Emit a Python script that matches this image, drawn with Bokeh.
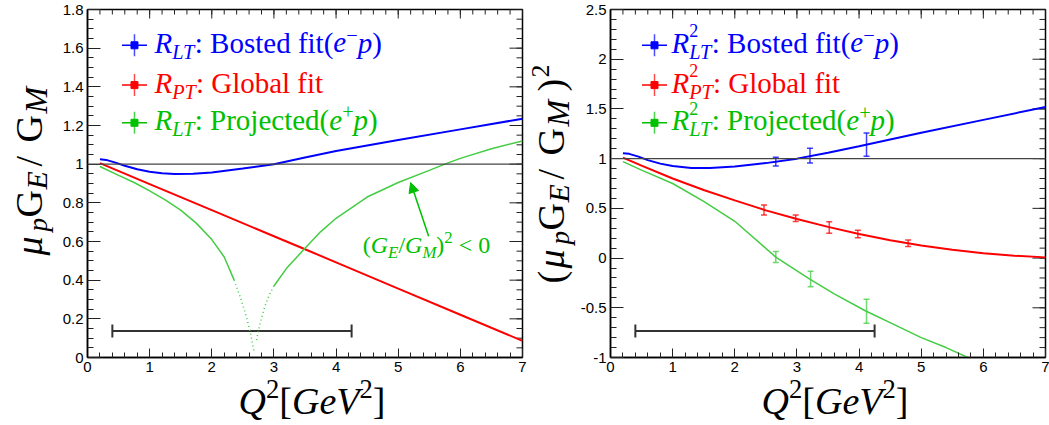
import numpy as np
from bokeh.plotting import figure
from bokeh.models import (Range1d, FixedTicker, Label, Span, Whisker,
                          TeeHead, Arrow, NormalHead, ColumnDataSource)
from bokeh.layouts import row, column
from bokeh.embed import file_html
from bokeh.resources import INLINE

# ---------------- data ----------------
# left panel: mu_p G_E/G_M
blue_l_x = [0.2, 0.3, 0.45, 0.6, 0.8, 1.0, 1.2, 1.4, 1.7, 2.0, 2.5, 3.0, 3.5, 4.0, 5.0, 6.0, 7.0]
blue_l_y = [1.025, 1.022, 1.008, 0.992, 0.974, 0.961, 0.953, 0.949, 0.950, 0.957, 0.977, 1.000, 1.035, 1.068, 1.125, 1.180, 1.235]
red_l_x = [0.2, 1.0, 2.0, 3.0, 3.5, 4.0, 5.0, 6.0, 7.0]
red_l_y = [1.005, 0.897, 0.762, 0.627, 0.560, 0.492, 0.356, 0.221, 0.086]
green_l_a_x = [0.2, 0.5, 0.75, 1.0, 1.25, 1.5, 1.75, 2.0, 2.2, 2.36, 2.45, 2.55, 2.62, 2.68]
green_l_a_y = [0.988, 0.942, 0.905, 0.862, 0.815, 0.762, 0.695, 0.610, 0.520, 0.400, 0.320, 0.220, 0.130, 0.030]
green_l_b_x = [2.72, 2.78, 2.85, 2.92, 3.0, 3.2, 3.5, 3.75, 4.0, 4.5, 5.0, 5.5, 5.75, 6.0, 6.5, 7.0]
green_l_b_y = [0.090, 0.180, 0.260, 0.320, 0.370, 0.460, 0.565, 0.650, 0.720, 0.830, 0.905, 0.968, 1.000, 1.030, 1.080, 1.120]

# right panel: (mu_p G_E/G_M)^2
blue_r_x = [0.2, 0.3, 0.45, 0.6, 0.8, 1.0, 1.3, 1.6, 2.0, 2.5, 3.0, 3.5, 4.0, 5.0, 6.0, 7.0]
blue_r_y = [1.054, 1.048, 1.020, 0.985, 0.950, 0.925, 0.905, 0.905, 0.920, 0.955, 1.000, 1.060, 1.125, 1.260, 1.390, 1.520]
red_r_x = [0.2, 0.5, 1.0, 1.5, 2.0, 2.5, 3.0, 3.5, 4.0, 4.5, 5.0, 5.5, 6.0, 6.5, 7.0]
red_r_y = [1.010, 0.930, 0.800, 0.685, 0.580, 0.480, 0.393, 0.314, 0.242, 0.180, 0.127, 0.083, 0.049, 0.023, 0.007]
green_r_x = [0.2, 0.5, 1.0, 1.5, 2.0, 2.66, 3.2, 3.6, 4.1, 4.6, 5.0, 5.4, 5.75, 6.0]
green_r_y = [0.970, 0.885, 0.750, 0.570, 0.370, 0.010, -0.210, -0.360, -0.530, -0.680, -0.800, -0.900, -1.000, -1.070]

blue_pts_x = [2.66, 3.21, 4.12]
blue_pts_y = [0.97, 1.03, 1.14]
blue_pts_err = [0.045, 0.075, 0.117]
red_pts_x = [2.47, 2.98, 3.52, 3.98, 4.79]
red_pts_y = [0.483, 0.400, 0.307, 0.243, 0.150]
red_pts_err = [0.050, 0.033, 0.058, 0.038, 0.033]
green_pts_x = [2.66, 3.22, 4.12]
green_pts_y = [0.010, -0.210, -0.535]
green_pts_err = [0.055, 0.078, 0.120]

# horizontal range bar
range_lo = [0.4]
range_hi = [4.25]
range_y_left = [0.137]
range_y_right = [-0.733]
ref_level = 1.0

# annotation arrow (left panel)
arrow_start = (5.49, 0.627)
arrow_end = (5.2, 0.905)
note_pos = (4.43, 0.536)

# ticks
X_MAJOR = [0, 1, 2, 3, 4, 5, 6, 7]
X_MINOR = [round(i * 0.2, 2) for i in range(36)]
YL_MAJOR = [round(i * 0.2, 2) for i in range(10)]
YL_MINOR = [round(i * 0.05, 3) for i in range(37)]
YL_LABELS = ["0", "0.2", "0.4", "0.6", "0.8", "1", "1.2", "1.4", "1.6", "1.8"]
YR_MAJOR = [-1, -0.5, 0, 0.5, 1, 1.5, 2, 2.5]
YR_MINOR = [round(-1 + i * 0.1, 2) for i in range(36)]
YR_LABELS = ["-1", "-0.5", "0", "0.5", "1", "1.5", "2", "2.5"]

BLUE = "#0000ff"
RED = "#ff0000"
GREEN_TXT = "#00c000"
GREEN_LN = "#44cc44"
TICK = "#222222"
SERIF = "Liberation Serif"
KMID = 0.36   # labels are centred on their anchor: baseline sits KMID*size below it

# ---------------- rich text helper ----------------
W_R = {' ': 250, ':': 278, '(': 333, ')': 333, '[': 333, ']': 333, '/': 278, '<': 564,
       '0': 500, '2': 500, 'B': 667, 'G': 722, 'P': 556, 'o': 500, 's': 389, 't': 278,
       'e': 444, 'd': 500, 'f': 333, 'i': 278, 'l': 278, 'b': 500, 'a': 444, 'r': 333,
       'j': 278, 'c': 444, '\u2212': 564, '+': 564}
W_I = {' ': 250, 'R': 611, 'L': 556, 'T': 556, 'P': 611, 'e': 444, 'p': 500, 'Q': 722,
       'G': 722, 'V': 611, 'E': 611, 'M': 833, '\u03bc': 500}


def tw(s, it, size):
    t = W_I if it else W_R
    return sum(t.get(c, 500) for c in s) * size / 1000.0


def total_width(pieces, size):
    return sum(tw(s, it, size * sc) for s, it, sc, rise, adv in pieces if adv)


def lab(p, x, y, text, it, fs, color, xo=0.0, yo=0.0, angle=0):
    # (x + xo, y + yo) is where the baseline should start
    if angle == 0:
        yo += KMID * fs
    else:
        xo -= KMID * fs
    p.add_layout(Label(x=x, y=y, x_offset=xo, y_offset=yo, text=text, text_font=SERIF,
                       text_font_style="italic" if it else "normal",
                       text_font_size=f"{fs:.1f}px", text_color=color,
                       text_baseline="alphabetic", text_align="left",
                       angle=angle, angle_units="deg"))


def rich(p, x, y, pieces, size, color, dx0=0.0, dy0=0.0):
    adv = 0.0
    for s, it, sc, rise, advance in pieces:
        fs = size * sc
        stripped = s.lstrip(' ')
        lead = tw(s[:len(s) - len(stripped)], it, fs)
        if stripped.strip():
            lab(p, x, y, stripped.rstrip(' '), it, fs, color, xo=dx0 + adv + lead, yo=dy0 + rise * size)
        if advance:
            adv += tw(s, it, fs)
    return adv


SUB = -0.2
SUP = 0.42


def make_fig(y0, y1, ymaj, ymin_, ylabels, mbl, mbr):
    p = figure(frame_width=435, frame_height=348, x_range=Range1d(0, 7), y_range=Range1d(y0, y1),
               min_border_left=mbl, min_border_right=mbr, min_border_top=9, min_border_bottom=22,
               title=None, output_backend="svg", toolbar_location=None)
    p.grid.visible = False
    p.outline_line_color = "black"
    p.outline_line_width = 1.5
    p.xaxis.ticker = FixedTicker(ticks=X_MAJOR, minor_ticks=X_MINOR)
    p.yaxis.ticker = FixedTicker(ticks=ymaj, minor_ticks=ymin_)
    p.yaxis.major_label_overrides = {v: l for v, l in zip(ymaj, ylabels)}
    for ax, tin, tmn in [(p.xaxis[0], 9, 5), (p.yaxis[0], 13, 6)]:
        ax.major_tick_in = tin
        ax.major_tick_out = 0
        ax.minor_tick_in = tmn
        ax.minor_tick_out = 0
        ax.major_tick_line_color = TICK
        ax.minor_tick_line_color = TICK
        ax.axis_line_color = "black"
        ax.axis_line_width = 1.5
        ax.major_label_text_font = "Liberation Sans"
        ax.major_label_text_font_size = "15px"
        ax.major_label_text_color = "black"
        ax.major_label_standoff = 4
    # mirrored ticks on the top and right edges (half of each dash is clipped by the frame)
    p.scatter(X_MAJOR, [y1] * len(X_MAJOR), marker="dash", angle=np.pi / 2, size=18, line_color=TICK, line_width=1)
    p.scatter(X_MINOR, [y1] * len(X_MINOR), marker="dash", angle=np.pi / 2, size=10, line_color=TICK, line_width=1)
    p.scatter([7] * len(ymaj), ymaj, marker="dash", size=26, line_color=TICK, line_width=1)
    p.scatter([7] * len(ymin_), ymin_, marker="dash", size=12, line_color=TICK, line_width=1)
    p.add_layout(Span(location=ref_level, dimension="width", line_color="#444444", line_width=1.2))
    return p


def strip(fw, fh, mbl=0, mbr=0):
    s = figure(frame_width=fw, frame_height=fh, x_range=Range1d(0, fw), y_range=Range1d(0, fh),
               min_border_left=mbl, min_border_right=mbr, min_border_top=0, min_border_bottom=0,
               title=None, x_axis_type=None, y_axis_type=None, output_backend="svg", toolbar_location=None)
    s.outline_line_color = None
    return s


def error_bars(p, xs, ys, es, color):
    src = ColumnDataSource(dict(x=xs, lo=[a - b for a, b in zip(ys, es)], hi=[a + b for a, b in zip(ys, es)]))
    p.add_layout(Whisker(source=src, base="x", lower="lo", upper="hi", dimension="height",
                         line_color=color, line_alpha=0.75, line_width=1.5,
                         upper_head=TeeHead(size=6, line_color=color, line_alpha=0.75, line_width=1.5),
                         lower_head=TeeHead(size=6, line_color=color, line_alpha=0.75, line_width=1.5)))


def range_bar(p, yv):
    src = ColumnDataSource(dict(y=yv, lo=range_lo, hi=range_hi))
    p.add_layout(Whisker(source=src, base="y", lower="lo", upper="hi", dimension="width",
                         line_color="#333333", line_width=2,
                         upper_head=TeeHead(size=13, line_color="#333333", line_width=2),
                         lower_head=TeeHead(size=13, line_color="#333333", line_width=2)))


def legend(p, lx, rows, text_dx):
    for ly, color, pieces in rows:
        p.scatter([lx], [ly], marker="dash", size=25, line_color=color, line_width=1.5)
        p.scatter([lx], [ly], marker="dash", size=22, angle=np.pi / 2, line_color=color, line_width=1.5, line_alpha=0.7)
        p.scatter([lx], [ly], marker="square", size=7, fill_color=color, line_color=color)
        rich(p, lx, ly, pieces, 29, color, dx0=text_dx, dy0=-8)


# ---------------- left panel ----------------
p1 = make_fig(0, 1.8, YL_MAJOR, YL_MINOR, YL_LABELS, 32, 8)
p1.line(blue_l_x, blue_l_y, line_color=BLUE, line_width=2)
p1.line(red_l_x, red_l_y, line_color=RED, line_width=2)


def split(xs, ys, thr=0.33):
    solid_x, solid_y, dot_x, dot_y = [], [], [], []
    for x, y in zip(xs, ys):
        if y >= thr:
            solid_x.append(x); solid_y.append(y)
        if y <= thr + 0.08:
            dot_x.append(x); dot_y.append(y)
    return solid_x, solid_y, dot_x, dot_y


for gx, gy in [(green_l_a_x, green_l_a_y), (green_l_b_x, green_l_b_y)]:
    sx, sy, dx, dy = split(gx, gy)
    p1.line(sx, sy, line_color=GREEN_LN, line_width=1.5)
    p1.line(dx, dy, line_color=GREEN_LN, line_width=1.5, line_dash="1 3")

range_bar(p1, range_y_left)
p1.add_layout(Arrow(end=NormalHead(size=10, fill_color=GREEN_TXT, line_color=GREEN_TXT),
                    x_start=arrow_start[0], y_start=arrow_start[1], x_end=arrow_end[0], y_end=arrow_end[1],
                    line_color=GREEN_TXT, line_width=1.5))
note = [("(", False, 1, 0, True), ("G", True, 1, 0, True), ("E", True, 0.7, SUB, True),
        ("/", False, 1, 0, True), ("G", True, 1, 0, True), ("M", True, 0.7, SUB, True),
        (")", False, 1, 0, True), ("2", False, 0.7, SUP, True), (" < 0", False, 1, 0, True)]
rich(p1, note_pos[0], note_pos[1], note, 24, GREEN_TXT)

leg_l = [
    (1.615, BLUE, [("R", True, 1, 0, True), ("LT", True, 0.7, SUB, True), (": Bosted fit(", False, 1, 0, True),
                   ("e", True, 1, 0, True), ("\u2212", False, 0.7, 0.38, True), ("p", True, 1, 0, True), (")", False, 1, 0, True)]),
    (1.409, RED, [("R", True, 1, 0, True), ("PT", True, 0.7, SUB, True), (": Global fit", False, 1, 0, True)]),
    (1.214, GREEN_TXT, [("R", True, 1, 0, True), ("LT", True, 0.7, SUB, True), (": Projected(", False, 1, 0, True),
                        ("e", True, 1, 0, True), ("+", False, 0.7, 0.38, True), ("p", True, 1, 0, True), (")", False, 1, 0, True)]),
]
legend(p1, 0.756, leg_l, 20)

# ---------------- right panel ----------------
p2 = make_fig(-1, 2.5, YR_MAJOR, YR_MINOR, YR_LABELS, 30, 7)
p2.line(blue_r_x, blue_r_y, line_color=BLUE, line_width=2)
p2.line(red_r_x, red_r_y, line_color=RED, line_width=2)
p2.line(green_r_x, green_r_y, line_color=GREEN_LN, line_width=1.5)
error_bars(p2, blue_pts_x, blue_pts_y, blue_pts_err, BLUE)
error_bars(p2, red_pts_x, red_pts_y, red_pts_err, RED)
error_bars(p2, green_pts_x, green_pts_y, green_pts_err, GREEN_LN)
range_bar(p2, range_y_right)

leg_r = [
    (2.14, BLUE, [("R", True, 1, 0, True), ("2", False, 0.62, 0.55, False), ("LT", True, 0.7, SUB, True),
                  (": Bosted fit(", False, 1, 0, True), ("e", True, 1, 0, True), ("\u2212", False, 0.7, 0.38, True),
                  ("p", True, 1, 0, True), (")", False, 1, 0, True)]),
    (1.74, RED, [("R", True, 1, 0, True), ("2", False, 0.62, 0.55, False), ("PT", True, 0.7, SUB, True),
                 (": Global fit", False, 1, 0, True)]),
    (1.36, GREEN_TXT, [("R", True, 1, 0, True), ("2", False, 0.62, 0.55, False), ("LT", True, 0.7, SUB, True),
                       (": Projected(", False, 1, 0, True), ("e", True, 1, 0, True), ("+", False, 0.7, 0.38, True),
                       ("p", True, 1, 0, True), (")", False, 1, 0, True)]),
]
legend(p2, 0.708, leg_r, 17)

# ---------------- axis titles (separate strips outside the frames) ----------------
H = 425
xlab = [("Q", True, 1, 0, True), ("2", False, 0.7, SUP, True), ("[", False, 1, 0, True), ("GeV", True, 1, 0, True),
        ("2", False, 0.7, SUP, True), ("]", False, 1, 0, True)]
XS = 38
xw = total_width(xlab, XS)

# strips below share the frame geometry of the panel above them
xs1 = strip(435, 46, 32, 8)
rich(xs1, 224.5 - xw / 2, 11, xlab, XS, "black")
xs2 = strip(435, 46, 30, 7)
rich(xs2, 224.5 - xw / 2, 11, xlab, XS, "black")

# rotated y titles: (text, italic, size, start position from top, shift below baseline)
ylab1 = [("\u03bc", True, 38, 255, 0), ("p", True, 27, 231, 5), ("G", False, 38, 217, 0),
         ("E", True, 30, 189, 5), ("/", False, 38, 166, 0), ("G", False, 38, 142, 0), ("M", True, 32, 113, 5)]
ylab2 = [("(", False, 38, 283, 0), ("\u03bc", True, 38, 268, 0), ("p", True, 27, 244, 5), ("G", False, 38, 230, 0),
         ("E", True, 30, 202, 5), ("/", False, 38, 179, 0), ("G", False, 38, 155, 0), ("M", True, 32, 126, 5),
         (")", False, 38, 91, 0), ("2", False, 26, 77, -15)]

ys1 = strip(55, H)
for t, it, fs, top, drop in ylab1:
    lab(ys1, 42 + drop, H - top, t, it, fs, "black", angle=90)
ys2 = strip(47, H)
for t, it, fs, top, drop in ylab2:
    lab(ys2, 34 + drop, H - top, t, it, fs, "black", angle=90)

layout = row(ys1, column(p1, xs1), ys2, column(p2, xs2))
open("out.html", "w").write(file_html(layout, INLINE))
